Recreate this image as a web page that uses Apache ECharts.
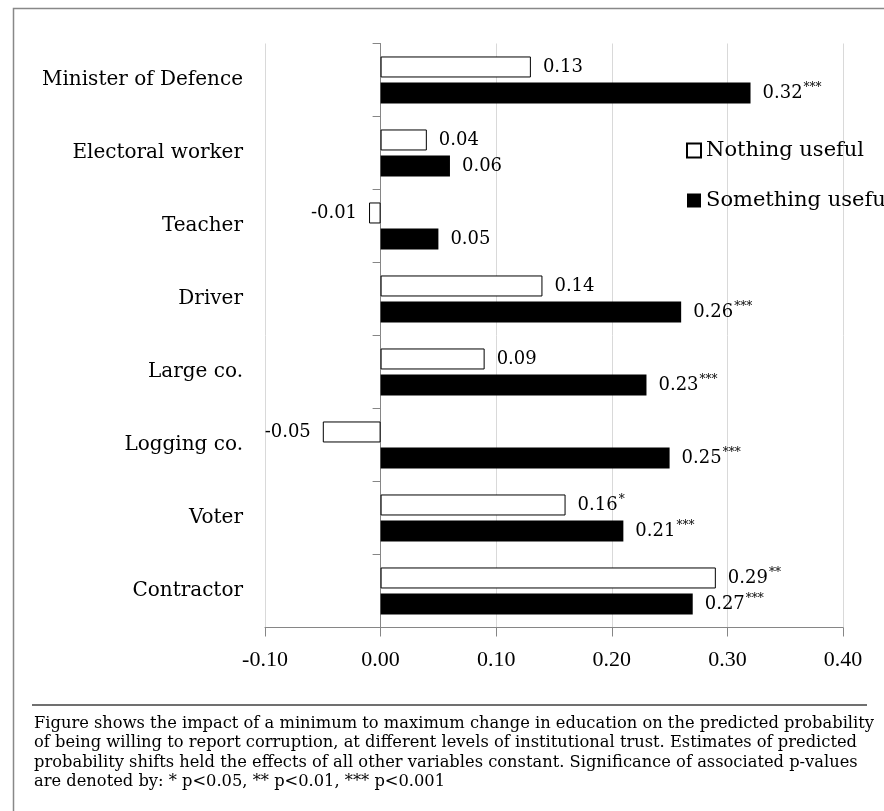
<!DOCTYPE html>
<html>
<head>
<meta charset="utf-8">
<script src="https://cdn.jsdelivr.net/npm/echarts@6/dist/echarts.min.js"></script>
<style>
html,body{margin:0;padding:0;background:#fff;}
#chart{width:884px;height:811px;}
</style>
</head>
<body>
<div id="chart"></div>
<script>
var categories = ['Minister of Defence','Electoral worker','Teacher','Driver','Large co.','Logging co.','Voter','Contractor'];
var nothingUseful = [0.13, 0.04, -0.01, 0.14, 0.09, -0.05, 0.16, 0.29];
var nothingStars = ['', '', '', '', '', '', '*', '**'];
var somethingUseful = [0.32, 0.06, 0.05, 0.26, 0.23, 0.25, 0.21, 0.27];
var somethingStars = ['***', '', '', '***', '***', '***', '***', '***'];
var xTicks = [-0.10, 0.00, 0.10, 0.20, 0.30, 0.40];
var captionLines = [
  'Figure shows the impact of a minimum to maximum change in education on the predicted probability',
  'of being willing to report corruption, at different levels of institutional trust. Estimates of predicted',
  'probability shifts held the effects of all other variables constant. Significance of associated p-values',
  'are denoted by: * p<0.05, ** p<0.01, *** p<0.001'
];

var SERIF = 'DejaVu Serif';
var GRID_LEFT = 265;
var chart = echarts.init(document.getElementById('chart'));

function makeData(vals, stars) {
  return vals.map(function (v, i) {
    return {
      value: v,
      stars: stars[i],
      label: { position: v < 0 ? 'left' : 'right' }
    };
  });
}
function labelFmt(p) {
  var s = p.data.stars;
  return '{v|' + p.value.toFixed(2) + '}' + (s ? '{s|' + s + '}' : '');
}
var labelRich = {
  v: { fontFamily: SERIF, fontSize: 18, color: '#000', lineHeight: 22 },
  s: { fontFamily: SERIF, fontSize: 12, color: '#000', verticalAlign: 'top', lineHeight: 10, padding: [0, 0, 0, 1] }
};

var option = {
  backgroundColor: '#fff',
  animation: false,
  grid: { left: GRID_LEFT, right: 41, top: 43.5, bottom: 183.5, containLabel: false },
  legend: {
    orient: 'vertical',
    left: 681,
    top: 135,
    itemWidth: 14,
    itemHeight: 14,
    itemGap: 29,
    icon: 'rect',
    textStyle: { fontFamily: SERIF, fontSize: 21, color: '#000' },
    data: ['Nothing useful', 'Something useful']
  },
  xAxis: {
    type: 'value',
    min: xTicks[0],
    max: xTicks[xTicks.length - 1],
    interval: 0.1,
    axisLine: { show: true, onZero: false, lineStyle: { color: '#868686', width: 1 } },
    axisTick: { show: true, length: 9, lineStyle: { color: '#868686' } },
    splitLine: { show: true, lineStyle: { color: '#d9d9d9', width: 1 } },
    axisLabel: {
      margin: 22,
      fontFamily: 'Liberation Serif',
      fontSize: 22,
      color: '#000',
      formatter: function (v) { return v.toFixed(2); }
    }
  },
  yAxis: [
    {
      type: 'category',
      inverse: true,
      position: 'left',
      data: categories,
      axisLine: { show: false },
      axisTick: { show: false },
      splitLine: { show: false },
      axisLabel: { margin: 22, fontFamily: SERIF, fontSize: 20, color: '#000' }
    },
    {
      type: 'category',
      inverse: true,
      position: 'left',
      offset: 0,
      data: categories,
      axisLine: { show: true, onZero: false, lineStyle: { color: '#868686', width: 1 } },
      axisTick: { show: true, length: 8, lineStyle: { color: '#868686' } },
      axisLabel: { show: false },
      splitLine: { show: false }
    }
  ],
  series: [
    {
      name: 'Nothing useful',
      type: 'bar',
      yAxisIndex: 0,
      barWidth: 21,
      barGap: '24%',
      itemStyle: { color: '#ffffff', borderColor: '#000', borderWidth: 1 },
      label: { show: true, distance: 12, formatter: labelFmt, rich: labelRich },
      data: makeData(nothingUseful, nothingStars)
    },
    {
      name: 'Something useful',
      type: 'bar',
      yAxisIndex: 0,
      barWidth: 21,
      barGap: '24%',
      itemStyle: { color: '#000000', borderColor: '#000', borderWidth: 0 },
      label: { show: true, distance: 12, formatter: labelFmt, rich: labelRich },
      data: makeData(somethingUseful, somethingStars)
    }
  ],
  graphic: [
    {
      type: 'rect',
      silent: true,
      z: -10,
      shape: { x: 13.5, y: 8.5, width: 900, height: 900 },
      style: { fill: 'none', stroke: '#888', lineWidth: 1.5 }
    },
    {
      type: 'line',
      silent: true,
      shape: { x1: 32, y1: 705, x2: 867, y2: 705 },
      style: { stroke: '#404040', lineWidth: 1.5 }
    },
    {
      type: 'text',
      silent: true,
      left: 34,
      top: 714,
      style: {
        text: captionLines.join('\n'),
        fontFamily: SERIF,
        fontSize: 16.3,
        lineHeight: 19.5,
        fill: '#000'
      }
    }
  ]
};
chart.setOption(option);
// place the category axis line on the zero of the value axis (via the library's own scale)
var zeroPx = chart.convertToPixel({ xAxisIndex: 0 }, 0);
chart.setOption({ yAxis: [{}, { offset: GRID_LEFT - zeroPx }] });
</script>
</body>
</html>
